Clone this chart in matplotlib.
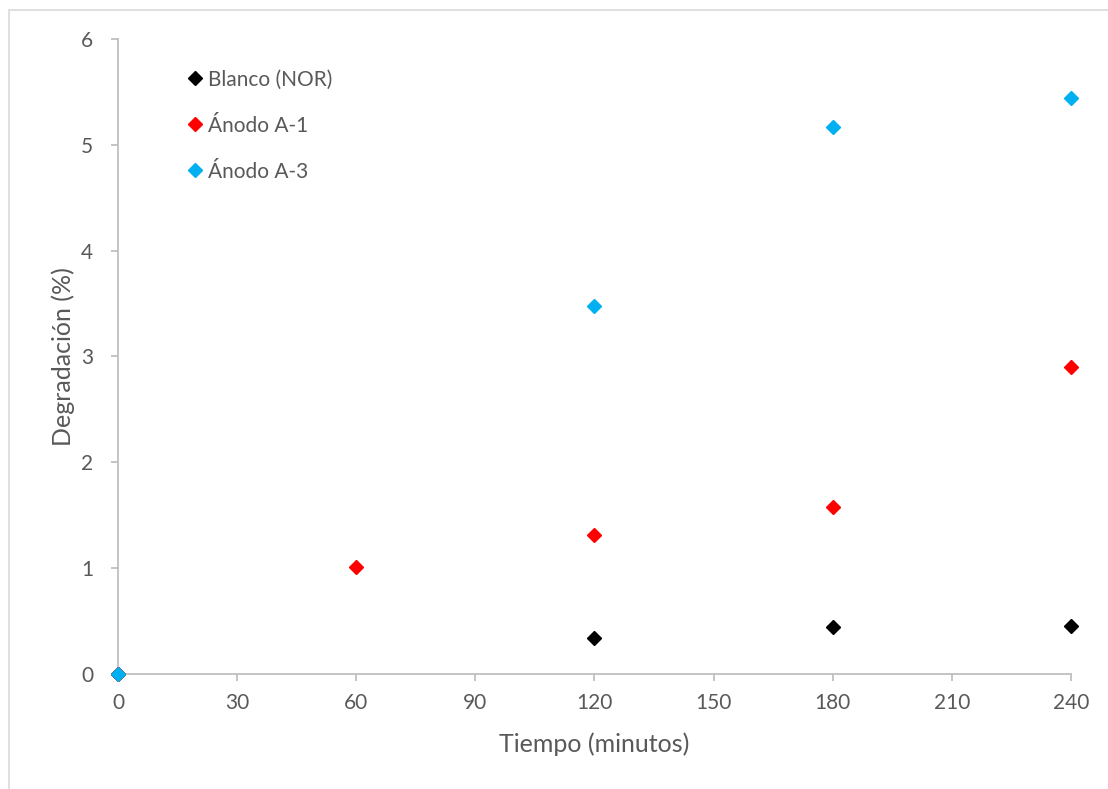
import matplotlib.pyplot as plt
from matplotlib.patches import Rectangle

# datos
t_blanco = [0, 120, 180, 240]
deg_blanco = [0, 0.34, 0.44, 0.45]
t_a1 = [0, 60, 120, 180, 240]
deg_a1 = [0, 1.01, 1.31, 1.58, 2.90]
t_a3 = [0, 120, 180, 240]
deg_a3 = [0, 3.48, 5.17, 5.44]

x_ticks = [0, 30, 60, 90, 120, 150, 180, 210, 240]
y_ticks = [0, 1, 2, 3, 4, 5, 6]

plt.rcParams['font.family'] = ['Lato', 'DejaVu Sans']
gris = "#595959"
eje = "#BFBFBF"

fig = plt.figure(figsize=(11.08, 7.89), dpi=100)
ax = fig.add_axes([0.1065, 0.1458, 0.8601, 0.8048])

# marco exterior del gráfico
fig.patches.append(Rectangle((9 / 1108, -0.1), 1.2, 1 - 10 / 789 + 0.1, transform=fig.transFigure,
                             fill=False, edgecolor="#D9D9D9", linewidth=1.2))

ax.plot(t_blanco, deg_blanco, "D", color="black", markersize=7.5, label="Blanco (NOR)", clip_on=False, zorder=3)
ax.plot(t_a1, deg_a1, "D", color="#FF0000", markersize=7.5, label="Ánodo A-1", clip_on=False, zorder=3)
ax.plot(t_a3, deg_a3, "D", color="#00B0F0", markersize=7.5, label="Ánodo A-3", clip_on=False, zorder=3)

ax.set_xlim(0, 240)
ax.set_ylim(0, 6)
ax.set_xticks(x_ticks)
ax.set_yticks(y_ticks)

for s in ["top", "right"]:
    ax.spines[s].set_visible(False)
for s in ["left", "bottom"]:
    ax.spines[s].set_color(eje)
    ax.spines[s].set_linewidth(1.3)

ax.tick_params(axis="both", colors=eje, length=5, width=1.3, labelsize=15, labelcolor=gris)
ax.tick_params(axis="x", pad=9)
ax.tick_params(axis="y", pad=13)

ax.set_xlabel("Tiempo (minutos)", fontsize=18, color=gris, labelpad=14)
ax.set_ylabel("Degradación (%)", fontsize=18, color=gris, labelpad=4)

leg = ax.legend(loc="upper left", bbox_to_anchor=(0.063, 0.965), frameon=False, fontsize=15,
                labelspacing=1.25, handlelength=0.8, handletextpad=0.25, borderaxespad=0)
for txt in leg.get_texts():
    txt.set_color(gris)

fig.savefig("out.png", dpi=100)
